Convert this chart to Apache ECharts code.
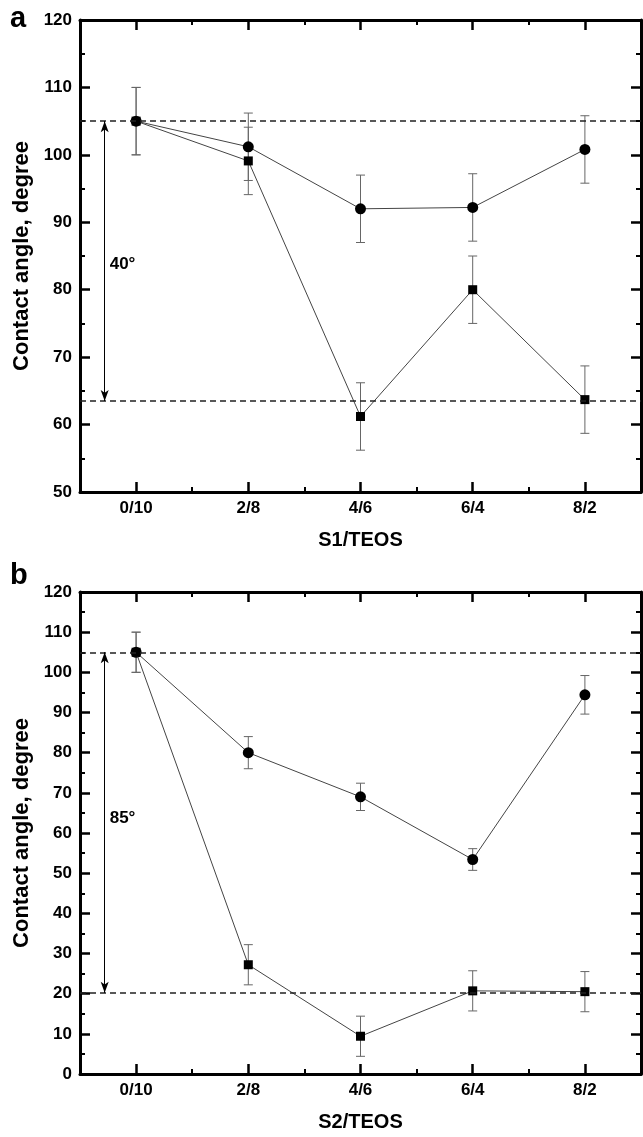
<!DOCTYPE html>
<html>
<head>
<meta charset="utf-8">
<script src="https://cdn.jsdelivr.net/npm/echarts@6/dist/echarts.min.js"></script>
<style>
html,body{margin:0;padding:0;background:#fff;}
.panel{width:643px;display:block;}
#pa{height:555px;}
#pb{height:582px;}
</style>
</head>
<body>
<div id="pa" class="panel"></div>
<div id="pb" class="panel"></div>
<script>
// ---------- data ----------
const categories = ['0/10', '2/8', '4/6', '6/4', '8/2'];

// panel a (S1/TEOS)
const aCircle    = [105.0, 101.2, 92.0, 92.2, 100.8];
const aCircleErr = [5, 5, 5, 5, 5];
const aSquare    = [105.0, 99.1, 61.2, 80.0, 63.7];
const aSquareErr = [5, 5, 5, 5, 5];
const aRefLines  = [105, 63.5];
const aDelta     = {text: '40°', x: -0.24, y: 83.7};
const aArrowX    = -0.28;

// panel b (S2/TEOS)
const bCircle    = [105.0, 80.0, 69.0, 53.4, 94.4];
const bCircleErr = [5, 4, 3.4, 2.7, 4.8];
const bSquare    = [105.0, 27.2, 9.4, 20.7, 20.5];
const bSquareErr = [5, 5, 5, 5, 5];
const bRefLines  = [105, 20.2];
const bDelta     = {text: '85°', x: -0.24, y: 63.6};
const bArrowX    = -0.28;

const panels = [
  {el: 'pa', letter: 'a', letterTop: 4, xName: 'S1/TEOS', yMin: 50, yMax: 120,
   circle: aCircle, circleErr: aCircleErr, square: aSquare, squareErr: aSquareErr,
   refs: aRefLines, delta: aDelta, arrowX: aArrowX,
   grid: {left: 80, right: 2, top: 20, height: 478}},
  {el: 'pb', letter: 'b', letterTop: 6, xName: 'S2/TEOS', yMin: 0, yMax: 120,
   circle: bCircle, circleErr: bCircleErr, square: bSquare, squareErr: bSquareErr,
   refs: bRefLines, delta: bDelta, arrowX: bArrowX,
   grid: {left: 80, right: 2, top: 37, height: 489}}
];

// ---------- chart ----------
const FONT = 'Liberation Sans, Arial, Helvetica, sans-serif';

function errRender(params, api) {
  const x = api.value(0), lo = api.value(1), hi = api.value(2);
  const pLo = api.coord([x, lo]), pHi = api.coord([x, hi]);
  const hw = 4.5;
  const st = {stroke: '#666', lineWidth: 1};
  return {type: 'group', children: [
    {type: 'line', shape: {x1: pLo[0], y1: pLo[1], x2: pHi[0], y2: pHi[1]}, style: st},
    {type: 'line', shape: {x1: pLo[0] - hw, y1: pLo[1], x2: pLo[0] + hw, y2: pLo[1]}, style: st},
    {type: 'line', shape: {x1: pHi[0] - hw, y1: pHi[1], x2: pHi[0] + hw, y2: pHi[1]}, style: st}
  ]};
}

panels.forEach(p => {
  const chart = echarts.init(document.getElementById(p.el));
  const frame = {show: true, onZero: false, lineStyle: {color: '#000', width: 3}};
  const majorTick = {show: true, inside: true, alignWithLabel: true, length: 10, lineStyle: {color: '#000', width: 2.5}};
  const minorTickX = {show: true, inside: true, alignWithLabel: false, length: 5, lineStyle: {color: '#000', width: 2}};
  const xAxes = [
    {type: 'value', min: -0.5, max: 4.5, show: false},
    {type: 'category', position: 'bottom', data: categories, boundaryGap: true, axisLine: frame,
     axisTick: majorTick,
     axisLabel: {show: true, margin: 8, color: '#000', fontFamily: FONT, fontWeight: 'bold', fontSize: 17},
     splitLine: {show: false},
     name: p.xName, nameLocation: 'middle', nameGap: 38,
     nameTextStyle: {color: '#000', fontFamily: FONT, fontWeight: 'bold', fontSize: 20}},
    {type: 'category', position: 'bottom', data: categories, boundaryGap: true,
     axisLine: {show: false, onZero: false}, axisTick: minorTickX, axisLabel: {show: false}, splitLine: {show: false}},
    {type: 'category', position: 'top', data: categories, boundaryGap: true, axisLine: frame,
     axisTick: majorTick, axisLabel: {show: false}, splitLine: {show: false}},
    {type: 'category', position: 'top', data: categories, boundaryGap: true,
     axisLine: {show: false, onZero: false}, axisTick: minorTickX, axisLabel: {show: false}, splitLine: {show: false}}
  ];
  const yCommon = {type: 'value', min: p.yMin, max: p.yMax, interval: 10,
    axisLine: {show: true, onZero: false, lineStyle: {color: '#000', width: 3}},
    axisTick: {show: true, inside: true, length: 10, lineStyle: {color: '#000', width: 2.5}},
    minorTick: {show: true, splitNumber: 2, length: 5, lineStyle: {color: '#000', width: 2}},
    splitLine: {show: false}, minorSplitLine: {show: false}};
  const yAxes = [
    Object.assign({}, yCommon, {position: 'left',
      axisLabel: {show: true, margin: 8, color: '#000', fontFamily: FONT, fontWeight: 'bold', fontSize: 17},
      name: 'Contact angle, degree', nameLocation: 'middle', nameGap: 46,
      nameTextStyle: {color: '#000', fontFamily: FONT, fontWeight: 'bold', fontSize: 22}}),
    Object.assign({}, yCommon, {position: 'right', axisLabel: {show: false}})
  ];

  const series = [];
  [[p.circle, p.circleErr], [p.square, p.squareErr]].forEach(([vals, errs]) => {
    series.push({type: 'custom', xAxisIndex: 0, yAxisIndex: 0, renderItem: errRender,
      encode: {x: 0, y: [1, 2]}, silent: true, z: 2,
      data: vals.map((v, i) => [i, v - errs[i], v + errs[i]])});
  });
  series.push({type: 'line', xAxisIndex: 0, yAxisIndex: 0, z: 3,
    data: p.circle.map((v, i) => [i, v]),
    symbol: 'circle', symbolSize: 11, itemStyle: {color: '#000'},
    lineStyle: {color: '#444', width: 1},
    markLine: {silent: true, symbol: 'none', animation: false, label: {show: false},
      lineStyle: {type: [6, 4], color: '#222', width: 1.5},
      data: p.refs.map(v => ({yAxis: v}))}
  });
  series.push({type: 'line', xAxisIndex: 0, yAxisIndex: 0, z: 4,
    data: p.square.map((v, i) => [i, v]),
    symbol: 'rect', symbolSize: 9, itemStyle: {color: '#000'},
    lineStyle: {color: '#444', width: 1},
    markLine: {silent: true, symbol: ['arrow', 'arrow'], symbolSize: [6, 11], animation: false,
      label: {show: false}, lineStyle: {type: 'solid', color: '#000', width: 1},
      data: [[{coord: [p.arrowX, p.refs[0]]}, {coord: [p.arrowX, p.refs[1]]}]]},
    markPoint: {silent: true, animation: false, symbol: 'circle', symbolSize: 1,
      itemStyle: {color: 'rgba(0,0,0,0)'},
      label: {show: true, position: 'right', distance: 0, color: '#000', fontFamily: FONT,
        fontWeight: 'bold', fontSize: 17, formatter: () => p.delta.text},
      data: [{coord: [p.delta.x, p.delta.y]}]}
  });

  chart.setOption({
    animation: false,
    title: {text: p.letter, left: 10, top: p.letterTop, padding: 0,
      textStyle: {color: '#000', fontFamily: FONT, fontWeight: 'bold', fontSize: 29}},
    grid: p.grid,
    xAxis: xAxes,
    yAxis: yAxes,
    series: series
  });
});
</script>
</body>
</html>
